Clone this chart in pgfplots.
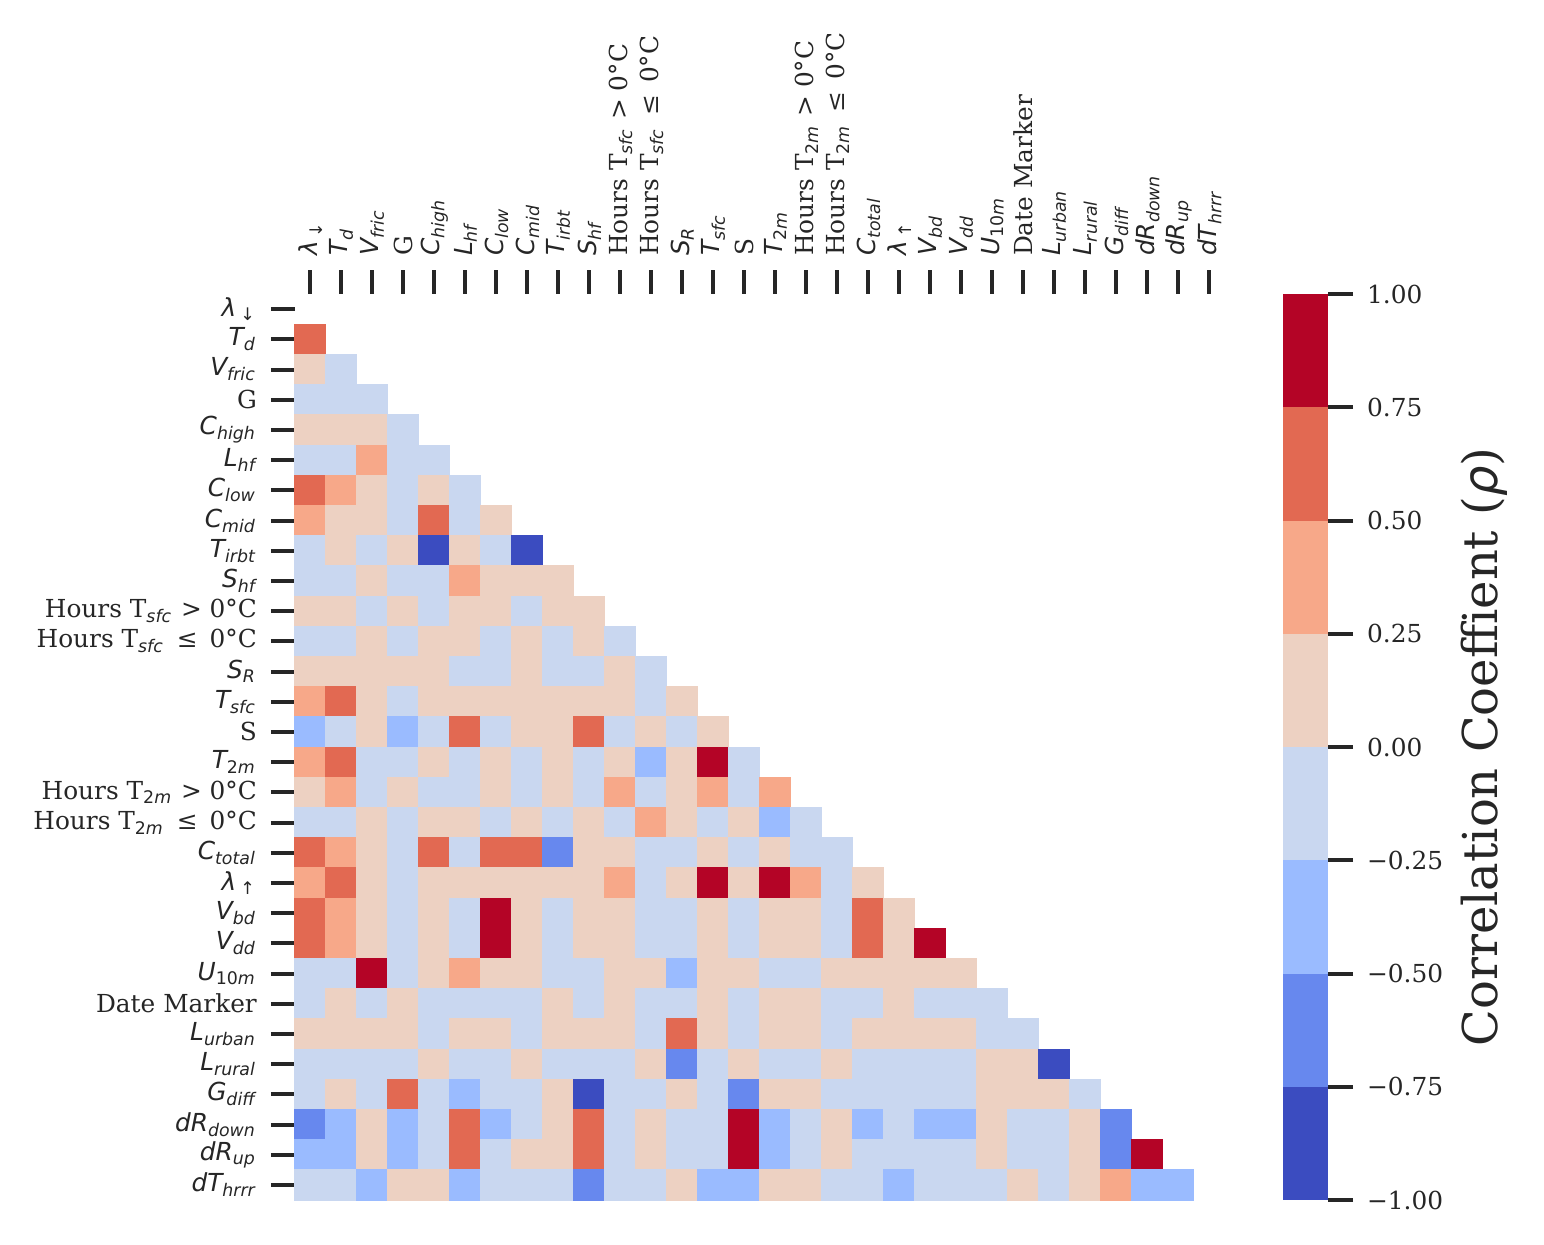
\documentclass[border=0pt]{standalone}
\usepackage{fontspec}
\setmainfont{DejaVu Serif}
\newfontfamily\dvs{DejaVu Sans}
\usepackage{pgfplots}
\pgfplotsset{compat=1.18}
\definecolor{c0}{RGB}{59,76,192}
\definecolor{c1}{RGB}{103,136,238}
\definecolor{c2}{RGB}{154,187,255}
\definecolor{c3}{RGB}{201,215,240}
\definecolor{c4}{RGB}{237,209,194}
\definecolor{c5}{RGB}{247,168,137}
\definecolor{c6}{RGB}{226,105,82}
\definecolor{c7}{RGB}{180,4,38}
\definecolor{txt}{RGB}{38,38,38}
\newcommand{\mi}[2]{{\dvs\itshape #1\textsubscript{#2}}}
\newcommand{\hsub}[1]{{\dvs\itshape\textsubscript{#1}}}
\begin{document}
\begin{tikzpicture}
\path[use as bounding box] (0,0) rectangle (386pt,-311pt);
\begin{axis}[
  at={(73.75pt,-73.5pt)}, anchor=north west,
  scale only axis, width=232.5pt, height=226.5pt,
  xmin=-0.5, xmax=29.5, ymin=-0.5, ymax=29.5, y dir=reverse,
  axis line style={draw=none},
  tick align=outside, major tick length=6pt,
  tick style={line width=1pt, color=txt},
  xtick={0,...,29}, ytick={0,...,29},
  xtick pos=right, xticklabel pos=right, ytick pos=left,
  tick label style={font=\fontsize{6.2}{7}\selectfont, text=txt},
  xticklabel style={rotate=90, anchor=west},
  yticklabel style={anchor=east},
  xticklabels={{\dvs\itshape λ\,\textsubscript{\upshape ↓}},\mi{T}{d},\mi{V}{fric},G,\mi{C}{high},\mi{L}{hf},\mi{C}{low},\mi{C}{mid},\mi{T}{irbt},\mi{S}{hf},{Hours T\hsub{sfc} > 0°C},{Hours T\hsub{sfc}\ \,≤\ \,0°C},\mi{S}{R},\mi{T}{sfc},S,\mi{T}{\upshape 2\itshape m},{Hours T\hsub{\upshape 2\itshape m} > 0°C},{Hours T\hsub{\upshape 2\itshape m}\ \,≤\ \,0°C},\mi{C}{total},{\dvs\itshape λ\,\textsubscript{\upshape ↑}},\mi{V}{bd},\mi{V}{dd},\mi{U}{\upshape 10\itshape m},Date Marker,\mi{L}{urban},\mi{L}{rural},\mi{G}{diff},\mi{dR}{down},\mi{dR}{up},\mi{dT}{hrrr}},
  yticklabels={{\dvs\itshape λ\,\textsubscript{\upshape ↓}},\mi{T}{d},\mi{V}{fric},G,\mi{C}{high},\mi{L}{hf},\mi{C}{low},\mi{C}{mid},\mi{T}{irbt},\mi{S}{hf},{Hours T\hsub{sfc} > 0°C},{Hours T\hsub{sfc}\ \,≤\ \,0°C},\mi{S}{R},\mi{T}{sfc},S,\mi{T}{\upshape 2\itshape m},{Hours T\hsub{\upshape 2\itshape m} > 0°C},{Hours T\hsub{\upshape 2\itshape m}\ \,≤\ \,0°C},\mi{C}{total},{\dvs\itshape λ\,\textsubscript{\upshape ↑}},\mi{V}{bd},\mi{V}{dd},\mi{U}{\upshape 10\itshape m},Date Marker,\mi{L}{urban},\mi{L}{rural},\mi{G}{diff},\mi{dR}{down},\mi{dR}{up},\mi{dT}{hrrr}},
]
\addplot[scatter, only marks, mark=square*, mark size=3.875pt,
  point meta=explicit symbolic,
  mark options={yscale=0.975, line width=0.25pt},
  scatter/classes={
    0={fill=c0,draw=c0}, 1={fill=c1,draw=c1}, 2={fill=c2,draw=c2}, 3={fill=c3,draw=c3},
    4={fill=c4,draw=c4}, 5={fill=c5,draw=c5}, 6={fill=c6,draw=c6}, 7={fill=c7,draw=c7}}]
coordinates {
(0,1)[6]
(0,2)[4] (1,2)[3]
(0,3)[3] (1,3)[3] (2,3)[3]
(0,4)[4] (1,4)[4] (2,4)[4] (3,4)[3]
(0,5)[3] (1,5)[3] (2,5)[5] (3,5)[3] (4,5)[3]
(0,6)[6] (1,6)[5] (2,6)[4] (3,6)[3] (4,6)[4] (5,6)[3]
(0,7)[5] (1,7)[4] (2,7)[4] (3,7)[3] (4,7)[6] (5,7)[3] (6,7)[4]
(0,8)[3] (1,8)[4] (2,8)[3] (3,8)[4] (4,8)[0] (5,8)[4] (6,8)[3] (7,8)[0]
(0,9)[3] (1,9)[3] (2,9)[4] (3,9)[3] (4,9)[3] (5,9)[5] (6,9)[4] (7,9)[4] (8,9)[4]
(0,10)[4] (1,10)[4] (2,10)[3] (3,10)[4] (4,10)[3] (5,10)[4] (6,10)[4] (7,10)[3] (8,10)[4] (9,10)[4]
(0,11)[3] (1,11)[3] (2,11)[4] (3,11)[3] (4,11)[4] (5,11)[4] (6,11)[3] (7,11)[4] (8,11)[3] (9,11)[4] (10,11)[3]
(0,12)[4] (1,12)[4] (2,12)[4] (3,12)[4] (4,12)[4] (5,12)[3] (6,12)[3] (7,12)[4] (8,12)[3] (9,12)[3] (10,12)[4] (11,12)[3]
(0,13)[5] (1,13)[6] (2,13)[4] (3,13)[3] (4,13)[4] (5,13)[4] (6,13)[4] (7,13)[4] (8,13)[4] (9,13)[4] (10,13)[4] (11,13)[3] (12,13)[4]
(0,14)[2] (1,14)[3] (2,14)[4] (3,14)[2] (4,14)[3] (5,14)[6] (6,14)[3] (7,14)[4] (8,14)[4] (9,14)[6] (10,14)[3] (11,14)[4] (12,14)[3] (13,14)[4]
(0,15)[5] (1,15)[6] (2,15)[3] (3,15)[3] (4,15)[4] (5,15)[3] (6,15)[4] (7,15)[3] (8,15)[4] (9,15)[3] (10,15)[4] (11,15)[2] (12,15)[4] (13,15)[7] (14,15)[3]
(0,16)[4] (1,16)[5] (2,16)[3] (3,16)[4] (4,16)[3] (5,16)[3] (6,16)[4] (7,16)[3] (8,16)[4] (9,16)[3] (10,16)[5] (11,16)[3] (12,16)[4] (13,16)[5] (14,16)[3] (15,16)[5]
(0,17)[3] (1,17)[3] (2,17)[4] (3,17)[3] (4,17)[4] (5,17)[4] (6,17)[3] (7,17)[4] (8,17)[3] (9,17)[4] (10,17)[3] (11,17)[5] (12,17)[4] (13,17)[3] (14,17)[4] (15,17)[2] (16,17)[3]
(0,18)[6] (1,18)[5] (2,18)[4] (3,18)[3] (4,18)[6] (5,18)[3] (6,18)[6] (7,18)[6] (8,18)[1] (9,18)[4] (10,18)[4] (11,18)[3] (12,18)[3] (13,18)[4] (14,18)[3] (15,18)[4] (16,18)[3] (17,18)[3]
(0,19)[5] (1,19)[6] (2,19)[4] (3,19)[3] (4,19)[4] (5,19)[4] (6,19)[4] (7,19)[4] (8,19)[4] (9,19)[4] (10,19)[5] (11,19)[3] (12,19)[4] (13,19)[7] (14,19)[4] (15,19)[7] (16,19)[5] (17,19)[3] (18,19)[4]
(0,20)[6] (1,20)[5] (2,20)[4] (3,20)[3] (4,20)[4] (5,20)[3] (6,20)[7] (7,20)[4] (8,20)[3] (9,20)[4] (10,20)[4] (11,20)[3] (12,20)[3] (13,20)[4] (14,20)[3] (15,20)[4] (16,20)[4] (17,20)[3] (18,20)[6] (19,20)[4]
(0,21)[6] (1,21)[5] (2,21)[4] (3,21)[3] (4,21)[4] (5,21)[3] (6,21)[7] (7,21)[4] (8,21)[3] (9,21)[4] (10,21)[4] (11,21)[3] (12,21)[3] (13,21)[4] (14,21)[3] (15,21)[4] (16,21)[4] (17,21)[3] (18,21)[6] (19,21)[4] (20,21)[7]
(0,22)[3] (1,22)[3] (2,22)[7] (3,22)[3] (4,22)[4] (5,22)[5] (6,22)[4] (7,22)[4] (8,22)[3] (9,22)[3] (10,22)[4] (11,22)[4] (12,22)[2] (13,22)[4] (14,22)[4] (15,22)[3] (16,22)[3] (17,22)[4] (18,22)[4] (19,22)[4] (20,22)[4] (21,22)[4]
(0,23)[3] (1,23)[4] (2,23)[3] (3,23)[4] (4,23)[3] (5,23)[3] (6,23)[3] (7,23)[3] (8,23)[4] (9,23)[3] (10,23)[4] (11,23)[3] (12,23)[3] (13,23)[4] (14,23)[3] (15,23)[4] (16,23)[4] (17,23)[3] (18,23)[3] (19,23)[4] (20,23)[3] (21,23)[3] (22,23)[3]
(0,24)[4] (1,24)[4] (2,24)[4] (3,24)[4] (4,24)[3] (5,24)[4] (6,24)[4] (7,24)[3] (8,24)[4] (9,24)[4] (10,24)[4] (11,24)[3] (12,24)[6] (13,24)[4] (14,24)[3] (15,24)[4] (16,24)[4] (17,24)[3] (18,24)[4] (19,24)[4] (20,24)[4] (21,24)[4] (22,24)[3] (23,24)[3]
(0,25)[3] (1,25)[3] (2,25)[3] (3,25)[3] (4,25)[4] (5,25)[3] (6,25)[3] (7,25)[4] (8,25)[3] (9,25)[3] (10,25)[3] (11,25)[4] (12,25)[1] (13,25)[3] (14,25)[4] (15,25)[3] (16,25)[3] (17,25)[4] (18,25)[3] (19,25)[3] (20,25)[3] (21,25)[3] (22,25)[4] (23,25)[4] (24,25)[0]
(0,26)[3] (1,26)[4] (2,26)[3] (3,26)[6] (4,26)[3] (5,26)[2] (6,26)[3] (7,26)[3] (8,26)[4] (9,26)[0] (10,26)[3] (11,26)[3] (12,26)[4] (13,26)[3] (14,26)[1] (15,26)[4] (16,26)[4] (17,26)[3] (18,26)[3] (19,26)[3] (20,26)[3] (21,26)[3] (22,26)[4] (23,26)[4] (24,26)[4] (25,26)[3]
(0,27)[1] (1,27)[2] (2,27)[4] (3,27)[2] (4,27)[3] (5,27)[6] (6,27)[2] (7,27)[3] (8,27)[4] (9,27)[6] (10,27)[3] (11,27)[4] (12,27)[3] (13,27)[3] (14,27)[7] (15,27)[2] (16,27)[3] (17,27)[4] (18,27)[2] (19,27)[3] (20,27)[2] (21,27)[2] (22,27)[4] (23,27)[3] (24,27)[3] (25,27)[4] (26,27)[1]
(0,28)[2] (1,28)[2] (2,28)[4] (3,28)[2] (4,28)[3] (5,28)[6] (6,28)[3] (7,28)[4] (8,28)[4] (9,28)[6] (10,28)[3] (11,28)[4] (12,28)[3] (13,28)[3] (14,28)[7] (15,28)[2] (16,28)[3] (17,28)[4] (18,28)[3] (19,28)[3] (20,28)[3] (21,28)[3] (22,28)[4] (23,28)[3] (24,28)[3] (25,28)[4] (26,28)[1] (27,28)[7]
(0,29)[3] (1,29)[3] (2,29)[2] (3,29)[4] (4,29)[4] (5,29)[2] (6,29)[3] (7,29)[3] (8,29)[3] (9,29)[1] (10,29)[3] (11,29)[3] (12,29)[4] (13,29)[2] (14,29)[2] (15,29)[4] (16,29)[4] (17,29)[3] (18,29)[3] (19,29)[2] (20,29)[3] (21,29)[3] (22,29)[3] (23,29)[4] (24,29)[3] (25,29)[4] (26,29)[5] (27,29)[2] (28,29)[2]
};
\end{axis}
\begin{axis}[
  at={(320.75pt,-73.5pt)}, anchor=north west,
  scale only axis, width=11.25pt, height=226.5pt,
  xmin=0, xmax=1, ymin=-1, ymax=1,
  xtick=\empty,
  ytick={-1,-0.75,-0.5,-0.25,0,0.25,0.5,0.75,1},
  yticklabels={−1.00,−0.75,−0.50,−0.25,0.00,0.25,0.50,0.75,1.00},
  ytick pos=right, yticklabel pos=right,
  axis line style={draw=none},
  tick align=outside, major tick length=6.25pt,
  tick style={line width=1pt, color=txt},
  yticklabel style={font=\fontsize{6.2}{7}\selectfont, text=txt, anchor=west},
  ylabel={Correlation Coeffient ({\dvs\itshape ρ})},
  every axis y label/.style={at={(axis description cs:4.47,0.5)}, rotate=90, anchor=center, font=\fontsize{12}{14}\selectfont, text=txt},
]
\addplot[draw=none, fill=c0] coordinates {(0,-1) (1,-1) (1,-0.75) (0,-0.75)} -- cycle;
\addplot[draw=none, fill=c1] coordinates {(0,-0.75) (1,-0.75) (1,-0.5) (0,-0.5)} -- cycle;
\addplot[draw=none, fill=c2] coordinates {(0,-0.5) (1,-0.5) (1,-0.25) (0,-0.25)} -- cycle;
\addplot[draw=none, fill=c3] coordinates {(0,-0.25) (1,-0.25) (1,0) (0,0)} -- cycle;
\addplot[draw=none, fill=c4] coordinates {(0,0) (1,0) (1,0.25) (0,0.25)} -- cycle;
\addplot[draw=none, fill=c5] coordinates {(0,0.25) (1,0.25) (1,0.5) (0,0.5)} -- cycle;
\addplot[draw=none, fill=c6] coordinates {(0,0.5) (1,0.5) (1,0.75) (0,0.75)} -- cycle;
\addplot[draw=none, fill=c7] coordinates {(0,0.75) (1,0.75) (1,1) (0,1)} -- cycle;
\end{axis}
\end{tikzpicture}
\end{document}
